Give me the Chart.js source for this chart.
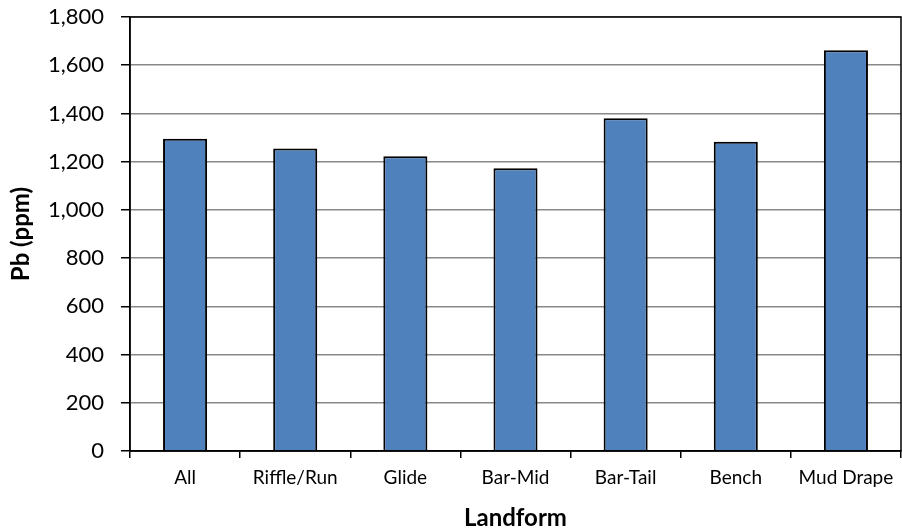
<!DOCTYPE html>
<html>
<head>
<meta charset="utf-8">
<script src="https://cdn.jsdelivr.net/npm/chart.js@4/dist/chart.umd.min.js"></script>
<style>
  html, body { margin: 0; padding: 0; background: #fff; }
  #wrap { width: 902px; height: 531px; }
</style>
</head>
<body>
<div id="wrap"><canvas id="c" width="902" height="531"></canvas></div>
<script>
// Mean lead concentration by landform
const landforms = ['All', 'Riffle/Run', 'Glide', 'Bar-Mid', 'Bar-Tail', 'Bench', 'Mud Drape'];
const pbValues = [1295, 1255, 1222, 1173, 1380, 1283, 1662];
const yTicks = [0, 200, 400, 600, 800, 1000, 1200, 1400, 1600, 1800];

const FONT = 'Lato, "Open Sans", sans-serif';

// Frame the whole plot area with a black outline
const frame = {
  id: 'frame',
  afterDatasetsDraw(chart) {
    const { ctx, chartArea: a } = chart;
    ctx.save();
    ctx.strokeStyle = '#000';
    ctx.lineWidth = 1.5;
    ctx.strokeRect(a.left, a.top, a.right - a.left, a.bottom - a.top);
    ctx.restore();
  }
};

new Chart(document.getElementById('c'), {
  type: 'bar',
  data: {
    labels: landforms,
    datasets: [{
      data: pbValues,
      backgroundColor: '#4F81BD',
      borderColor: '#000',
      borderWidth: 2,
      barPercentage: 0.4,
      categoryPercentage: 1.0
    }]
  },
  options: {
    responsive: false,
    animation: false,
    devicePixelRatio: 1,
    layout: { padding: { top: 17, right: 1, left: 0, bottom: 0 } },
    plugins: { legend: { display: false }, tooltip: { enabled: false } },
    scales: {
      x: {
        grid: { offset: true, drawOnChartArea: false, drawTicks: true, tickLength: 7, color: '#000', lineWidth: 1.5 },
        border: { color: '#000', width: 1.5 },
        ticks: { color: '#000', font: { family: FONT, size: 19 }, padding: 8, maxRotation: 0 },
        title: { display: true, text: 'Landform', color: '#000', font: { family: FONT, size: 24, weight: 'bold' }, padding: { top: 0, bottom: -2 } },
        afterFit(scale) { scale.height = 80; }
      },
      y: {
        min: 0,
        max: 1800,
        afterBuildTicks(scale) { scale.ticks = yTicks.map(v => ({ value: v })); },
        grid: { color: '#888', lineWidth: 1.5, tickColor: '#000', tickLength: 9, drawTicks: true },
        border: { color: '#000', width: 1.5 },
        ticks: {
          color: '#000',
          font: { family: FONT, size: 22 },
          padding: 17,
          callback: v => v.toLocaleString('en-US')
        },
        title: { display: true, text: 'Pb (ppm)', color: '#000', font: { family: FONT, size: 24, weight: 'bold' }, padding: { top: 7, bottom: 0 } },
        afterFit(scale) {
          scale.width = 130;
          scale.paddingTop = 0;
          scale.paddingBottom = 0;
        }
      }
    }
  },
  plugins: [frame]
});
</script>
</body>
</html>
